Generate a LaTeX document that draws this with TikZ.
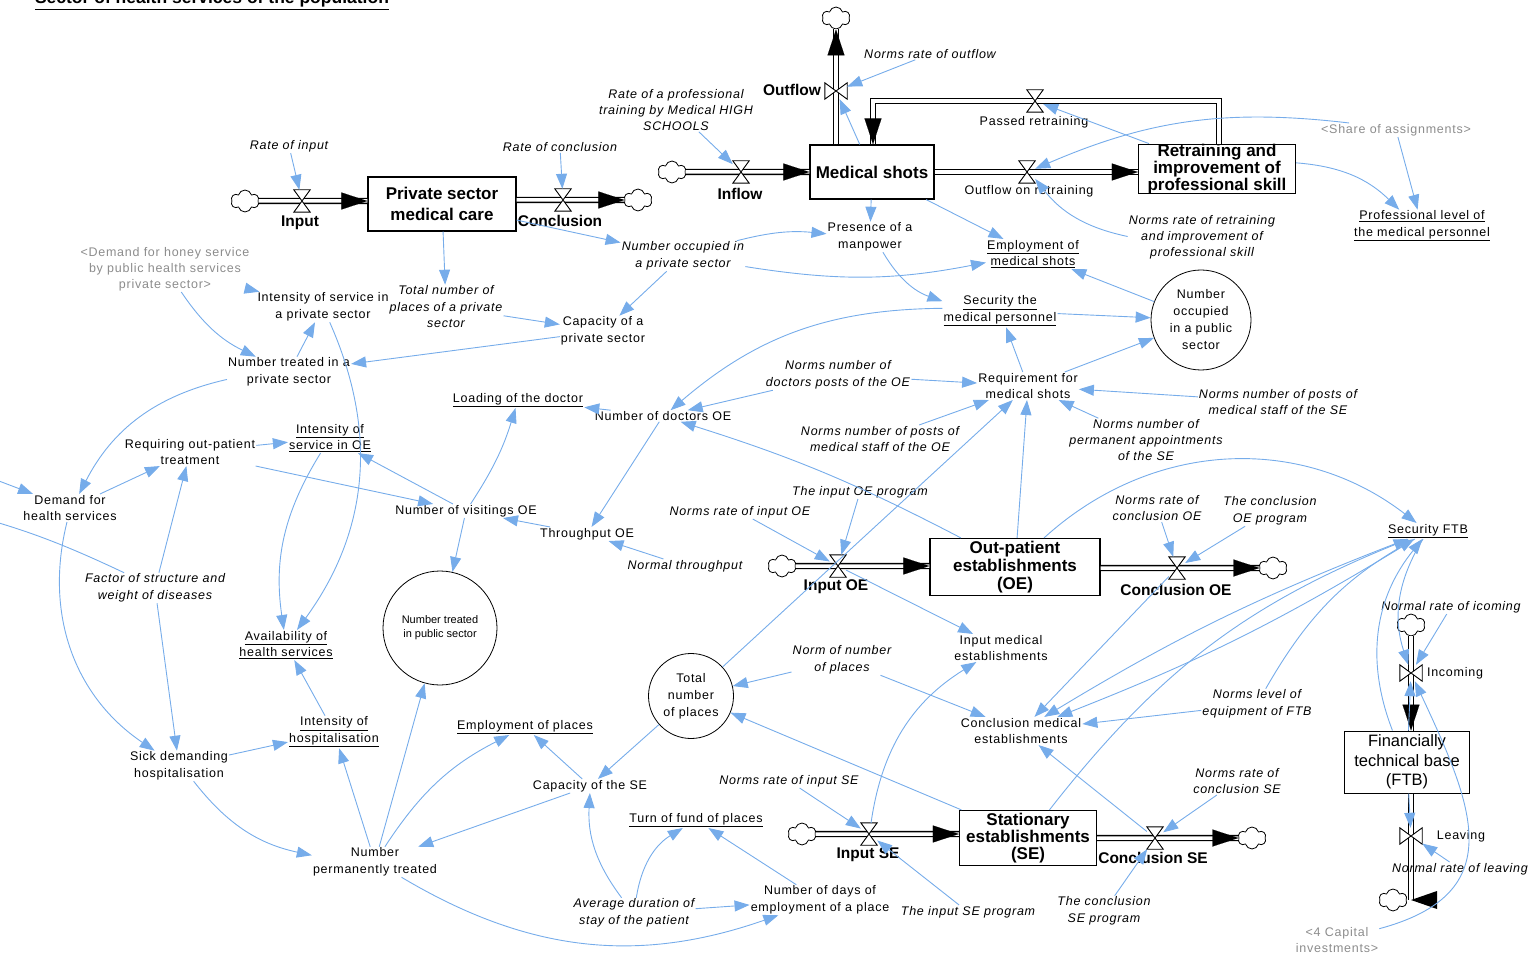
\documentclass[tikz,border=0pt]{standalone}
\usepackage{fontspec}
\setmainfont{Liberation Sans}
\newfontfamily\vfont[LetterSpace=6]{Liberation Sans}
\usetikzlibrary{arrows.meta, shapes.symbols, shapes.geometric}
\definecolor{LinkBlue}{RGB}{118,172,234}
\definecolor{ShadowGrey}{RGB}{140,140,140}

\tikzset{
  aux/.style={font=\vfont\fontsize{12.5}{16.5}\selectfont, align=center, inner sep=1pt},
  cst/.style={font=\vfont\itshape\fontsize{12.5}{16.5}\selectfont, align=center, inner sep=1pt},
  shd/.style={aux, text=ShadowGrey},
  stock/.style={draw, line width=1.2pt, align=center, inner sep=0pt},
  flowlab/.style={font=\bfseries\fontsize{15.5}{15.5}\selectfont, inner sep=1pt},
  tank/.style={circle, draw, line width=0.8pt, aux, inner sep=0pt},
  cloudy/.style={cloud, cloud puffs=6, draw, fill=white, line width=0.8pt, minimum width=28pt, minimum height=22pt, inner sep=0pt},
  link/.style={LinkBlue, line width=0.9pt, -{Triangle[length=15pt, width=11pt]}},
  pipe/.style={draw=black, line width=1.3pt, double=white, double distance=3.5pt},
  pipetip/.style={draw=white, line width=0.1pt, -{Triangle[length=26pt, width=17pt, color=black]}},
  valvebox/.style={inner sep=0pt, minimum width=16pt, minimum height=22pt},
  valvetie/.style={draw=black, fill=white, line width=0.9pt},
}
% hourglass valve on a horizontal pipe, bow-tie valve on a vertical pipe
\newcommand\valvev[2]{\node[valvebox] (#1) at (#2) {};
  \draw[valvetie] (#1.north west) -- (#1.north east) -- (#1.south west) -- (#1.south east) -- cycle;}
\newcommand\valveh[2]{\node[valvebox, minimum width=22pt, minimum height=16pt] (#1) at (#2) {};
  \draw[valvetie] (#1.north west) -- (#1.south west) -- (#1.north east) -- (#1.south east) -- cycle;}
\newcommand\pipeto[2]{\draw[pipe] (#1) -- (#2); \draw[pipetip] (#1) -- (#2);}

\begin{document}
\begin{tikzpicture}[x=1pt, y=-1pt]
\useasboundingbox (0,0) rectangle (1529,957);

% Title
\node[anchor=base, font=\bfseries\fontsize{17.5}{18}\selectfont] (title) at (212,4) {\underline{Sector of health services of the population}};

% Stocks
\node[stock, minimum width=148pt, minimum height=54pt, font=\bfseries\fontsize{17}{20.5}\selectfont] (ps) at (442,204) {Private sector\\medical care};
\node[stock, minimum width=124pt, minimum height=54pt, font=\bfseries\fontsize{17}{20}\selectfont] (ms) at (872,172) {Medical shots};
\node[stock, minimum width=157pt, minimum height=49pt, font=\bfseries\fontsize{17}{14.5}\selectfont] (rt) at (1217,169) {Retraining and\\improvement of\\professional skill};
\node[stock, minimum width=170pt, minimum height=57pt, font=\bfseries\fontsize{17}{18}\selectfont] (oe) at (1015,567) {Out-patient\\establishments\\(OE)};
\node[stock, minimum width=137pt, minimum height=55pt, font=\bfseries\fontsize{17}{17}\selectfont] (se) at (1028,838) {Stationary\\establishments\\(SE)};
\node[stock, line width=1pt, minimum width=125pt, minimum height=62pt, font=\fontsize{16.5}{19.5}\selectfont] (ftb) at (1407,762) {Financially\\technical base\\(FTB)};

% Clouds
\node[cloudy] (c1) at (245,201) {};
\node[cloudy] (c2) at (638,200) {};
\node[cloudy] (c3) at (672,172) {};
\node[cloudy] (c4) at (836,18) {};
\node[cloudy] (c5) at (782,566) {};
\node[cloudy] (c6) at (1273,568) {};
\node[cloudy] (c7) at (802,834) {};
\node[cloudy] (c8) at (1252,838) {};
\node[cloudy] (c9) at (1411,625) {};
\node[cloudy] (c10) at (1393,900) {};

% Pipes
\pipeto{c1}{c1 -| ps.west}
\pipeto{ps.east |- c2}{c2}
\pipeto{c3}{c3 -| ms.west}
\pipeto{ms.north -| c4}{c4}
\pipeto{ms.east}{ms.east -| rt.west}
\coordinate (prR) at (1219,101);
\coordinate (prL) at (873,101);
\draw[pipe] (rt.north -| prR) -- (prR) -- (prL) -- (prL |- ms.north);
\draw[pipetip] (prL) -- (prL |- ms.north);
\pipeto{c5}{c5 -| oe.west}
\pipeto{oe.east |- c6}{c6}
\pipeto{c7}{c7 -| se.west}
\pipeto{se.east |- c8}{c8}
\pipeto{c9}{c9 |- ftb.north}
\draw[pipe] (ftb.south -| c9) -- (c9 |- c10);
\fill (c9 |- c10) -- ++(26,-9) -- ++(0,18) -- cycle;

% Valves
\valvev{vIn}{302,201}
\valvev{vCon}{563,200}
\valvev{vInf}{741,172}
\valveh{vOut}{836,91}
\valvev{vOR}{1027,172}
\valvev{vPR}{1035,101}
\valvev{vInOE}{838,566}
\valvev{vConOE}{1177,568}
\valvev{vInSE}{869,834}
\valvev{vConSE}{1155,838}
\valveh{vInc}{1411,673}
\valveh{vLeav}{1411,836}

% Flow names
\node[flowlab] (lIn) at (300,223) {Input};
\node[flowlab] (lCon) at (560,221) {Conclusion};
\node[flowlab] (lInf) at (740,194) {Inflow};
\node[flowlab] (lOut) at (792,90) {Outflow};
\node[flowlab] (lInOE) at (836,587) {Input OE};
\node[flowlab] (lConOE) at (1176,590) {Conclusion OE};
\node[flowlab] (lInSE) at (868,855) {Input SE};
\node[flowlab] (lConSE) at (1153,858) {Conclusion SE};
\node[aux] (lOR) at (1029,191) {Outflow on retraining};
\node[aux] (lPR) at (1034,122) {Passed retraining};
\node[aux] (lInc) at (1455,673) {Incoming};
\node[aux] (lLeav) at (1461,836) {Leaving};

% Private sector
\node[cst] (nRI) at (289,146) {Rate of input};
\node[cst] (nRC) at (560,147) {Rate of conclusion};
\node[shd, font=\vfont\fontsize{12.5}{16}\selectfont] (nDHon) at (165,269) {<Demand for honey service\\by public health services\\private sector>};
\node[aux] (nISP) at (323,307) {Intensity of service in\\a private sector};
\node[cst] (nTNPP) at (446,307) {Total number of\\places of a private\\sector};
\node[aux] (nCPS) at (603,331) {Capacity of a\\private sector};
\node[aux] (nNTPS) at (289,372) {Number treated in a\\private sector};
\node[cst] (nNOP) at (683,256) {Number occupied in\\a private sector};

% Medical shots
\node[cst, font=\vfont\itshape\fontsize{12.5}{16}\selectfont] (nRPT) at (676,110) {Rate of a professional\\training by Medical HIGH\\SCHOOLS};
\node[cst] (nNRO) at (930,54) {Norms rate of outflow};
\node[shd] (nShare) at (1396,130) {<Share of assignments>};
\node[cst, font=\vfont\itshape\fontsize{12.5}{16}\selectfont] (nNRR) at (1202,237) {Norms rate of retraining\\and improvement of\\professional skill};
\node[aux] (nPLM) at (1422,226) {\underline{Professional level of}\\\underline{the medical personnel}};
\node[aux] (nPM) at (870,237) {Presence of a\\manpower};
\node[aux] (nEMS) at (1033,254) {\underline{Employment of}\\\underline{medical shots}};
\node[aux] (nSMP) at (1000,311) {\underline{Security the}\\\underline{medical personnel}};
\node[tank, minimum size=100pt, font=\vfont\fontsize{12.5}{17}\selectfont] (nNOPub) at (1201,320) {Number\\occupied\\in a public\\sector};

% Requirement for medical shots
\node[aux] (nRMS) at (1028,386) {Requirement for\\medical shots};
\node[cst] (nNDP) at (838,375) {Norms number of\\doctors posts of the OE};
\node[cst] (nNPO) at (880,439) {Norms number of posts of\\medical staff of the OE};
\node[cst] (nNPS) at (1278,402) {Norms number of posts of\\medical staff of the SE};
\node[cst, font=\vfont\itshape\fontsize{12.5}{16}\selectfont] (nNPA) at (1146,440) {Norms number of\\permanent appointments\\of the SE};
\node[aux] (nNDO) at (663,416) {Number of doctors OE};
\node[aux] (nLD) at (518,400) {\underline{Loading of the doctor}};
\node[aux] (nTO) at (587,534) {Throughput OE};
\node[cst] (nNT) at (685,566) {Normal throughput};
\node[aux] (nNV) at (466,511) {Number of visitings OE};

% Demand side
\node[aux] (nISO) at (330,438) {\underline{Intensity of}\\\underline{service in OE}};
\node[aux] (nROT) at (190,452) {Requiring out-patient\\treatment};
\node[aux] (nDHS) at (70,508) {Demand for\\health services};
\node[cst] (nFSW) at (155,588) {Factor of structure and\\weight of diseases};
\node[aux] (nSDH) at (179,766) {Sick demanding\\hospitalisation};
\node[aux] (nIH) at (334,732) {\underline{Intensity of}\\\underline{hospitalisation}};
\node[aux] (nAHS) at (286,645) {\underline{Availability of}\\\underline{health services}};
\node[aux] (nNPT) at (375,862) {Number\\permanently treated};
\node[tank, minimum size=114pt, font=\fontsize{11}{14}\selectfont] (nNTP) at (440,628) {Number treated\\in public sector};
\coordinate (inL) at (-30,470);
\coordinate (outL) at (-40,512);

% Places
\node[aux] (nEP) at (525,727) {\underline{Employment of places}};
\node[aux] (nCSE) at (590,786) {Capacity of the SE};
\node[tank, minimum size=85pt, font=\vfont\fontsize{12.5}{17}\selectfont] (nTNP) at (691,696) {Total\\number\\of places};
\node[cst] (nNNP) at (842,660) {Norm of number\\of places};
\node[aux] (nTFP) at (696,820) {\underline{Turn of fund of places}};
\node[cst] (nADS) at (634,913) {Average duration of\\stay of the patient};
\node[aux] (nNDE) at (820,900) {Number of days of\\employment of a place};

% Establishments
\node[cst] (nNRIO) at (740,512) {Norms rate of input OE};
\node[cst] (nTIOP) at (860,492) {The input OE program};
\node[cst] (nNRCO) at (1157,508) {Norms rate of\\conclusion OE};
\node[cst] (nTCOP) at (1270,511) {The conclusion\\OE program};
\node[cst] (nNRIS) at (789,781) {Norms rate of input SE};
\node[cst] (nTISP) at (968,912) {The input SE program};
\node[cst] (nNRCS) at (1237,781) {Norms rate of\\conclusion SE};
\node[cst] (nTCSP) at (1104,911) {The conclusion\\SE program};
\node[aux] (nIME) at (1001,648) {Input medical\\establishments};
\node[aux] (nCME) at (1021,731) {Conclusion medical\\establishments};
\node[cst] (nNLE) at (1257,704) {Norms level of\\equipment of FTB};

% FTB
\node[aux] (nSFTB) at (1428,531) {\underline{Security FTB}};
\node[cst] (nNRI) at (1451,607) {Normal rate of icoming};
\node[cst] (nNRL) at (1460,869) {Normal rate of leaving};
\node[shd] (nCap) at (1337,940) {<4 Capital\\investments>};

% Links: private sector
\draw[link] (nRI) -- (vIn);
\draw[link] (nRC) -- (vCon);
\draw[link] (ps) -- (nNOP);
\draw[link] (ps) -- (nTNPP);
\draw[link] (nTNPP) -- (nCPS);
\draw[link] (nNOP) -- (nCPS);
\draw[link] (nCPS) -- (nNTPS);
\draw[link] (nDHon) to[bend right=15] (nNTPS);
\draw[link] (nDHon) -- (nISP);
\draw[link] (nNTPS) -- (nISP);
\draw[link] (nNTPS) to[bend right=25] (nDHS);
\draw[link] (nISP) to[bend left=30] (nAHS);

% Links: medical shots
\draw[link] (nRPT) -- (vInf);
\draw[link] (nNRO) -- (vOut);
\draw[link] (ms) -- (vOut);
\draw[link] (rt) -- (vPR);
\draw[link] (nNRR) to[bend left=20] (vOR);
\draw[link] (nShare) to[bend right=15] (vOR);
\draw[link] (nShare) -- (nPLM);
\draw[link] (rt) to[bend left=20] (nPLM);
\draw[link] (ms) -- (nPM);
\draw[link] (ms) -- (nEMS);
\draw[link] (nNOP) to[bend left=10] (nPM);
\draw[link] (nNOP) to[bend right=10] (nEMS);
\draw[link] (nPM) to[bend right=20] (nSMP);
\draw[link] (nSMP) -- (nNOPub);
\draw[link] (nNOPub) -- (nEMS);
\draw[link] (nRMS) -- (nNOPub);
\draw[link] (nRMS) -- (nSMP);
\draw[link] (nSMP) to[bend right=20] (nNDO);

% Links: requirement and doctors
\draw[link] (nNDP) -- (nRMS);
\draw[link] (nNDP) -- (nNDO);
\draw[link] (nNPO) -- (nRMS);
\draw[link] (nNPS) -- (nRMS);
\draw[link] (nNPA) -- (nRMS);
\draw[link] (oe) -- (nRMS);
\draw[link] (oe) to[bend right=5] (nNDO);
\draw[link] (nTNP) -- (nRMS);
\draw[link] (oe) to[bend left=40] (nSFTB);
\draw[link] (nNDO) -- (nTO);
\draw[link] (nNDO) -- (nLD);
\draw[link] (nNT) -- (nTO);
\draw[link] (nTO) -- (nNV);
\draw[link] (nNV) to[bend right=8] (nLD);
\draw[link] (nNV) -- (nNTP);
\draw[link] (nNV) -- (nISO);
\draw[link] (nROT) -- (nNV);
\draw[link] (nROT) -- (nISO);
\draw[link] (nISO) to[bend right=20] (nAHS);

% Links: demand and hospital
\draw[link] (inL) -- (nDHS);
\draw[link] (nFSW) to[bend right=5] (outL);
\draw[link] (nDHS) -- (nROT);
\draw[link] (nFSW) -- (nROT);
\draw[link] (nDHS) to[bend right=35] (nSDH);
\draw[link] (nFSW) -- (nSDH);
\draw[link] (nSDH) -- (nIH);
\draw[link] (nSDH) to[bend right=20] (nNPT);
\draw[link] (nNPT) -- (nIH);
\draw[link] (nIH) -- (nAHS);
\draw[link] (nNPT) -- (nNTP);
\draw[link] (nNPT) to[bend left=15] (nEP);
\draw[link] (nNPT) to[bend right=25] (nNDE);

% Links: places
\draw[link] (nCSE) -- (nEP);
\draw[link] (nCSE) -- (nNPT);
\draw[link] (nTNP) -- (nCSE);
\draw[link] (nNNP) -- (nTNP);
\draw[link] (se) -- (nTNP);
\draw[link] (nNNP) -- (nCME);
\draw[link] (nADS) to[bend left=20] (nCSE);
\draw[link] (nADS) to[bend left=25] (nTFP);
\draw[link] (nADS) -- (nNDE);
\draw[link] (nNDE) -- (nTFP);

% Links: establishments
\draw[link] (nNRIO) -- (vInOE);
\draw[link] (nTIOP) -- (vInOE);
\draw[link] (nNRCO) -- (vConOE);
\draw[link] (nTCOP) -- (vConOE);
\draw[link] (nNRIS) -- (vInSE);
\draw[link] (nTISP) -- (vInSE);
\draw[link] (nNRCS) -- (vConSE);
\draw[link] (nTCSP) -- (vConSE);
\draw[link] (vInOE) -- (nIME);
\draw[link] (vInSE) to[bend left=25] (nIME);
\draw[link] (vConOE) -- (nCME);
\draw[link] (vConSE) -- (nCME);
\draw[link] (nNLE) -- (nCME);

% Links: FTB
\draw[link] (se) to[bend left=15] (nSFTB);
\draw[link] (nNLE) to[bend left=15] (nSFTB);
\draw[link] (nSFTB) to[bend right=5] (nCME);
\draw[link] (nSFTB) to[bend left=5] (nCME);
\draw[link] (ftb) to[bend left=30] (nSFTB);
\draw[link] (nSFTB) to[bend right=25] (vInc);
\draw[link] (nNRI) -- (vInc);
\draw[link] (ftb) -- (vInc);
\draw[link] (nCap) to[out=15, in=-65, looseness=1.4] (vInc);
\draw[link] (ftb) -- (vLeav);
\draw[link] (nNRL) -- (vLeav);
\end{tikzpicture}
\end{document}
